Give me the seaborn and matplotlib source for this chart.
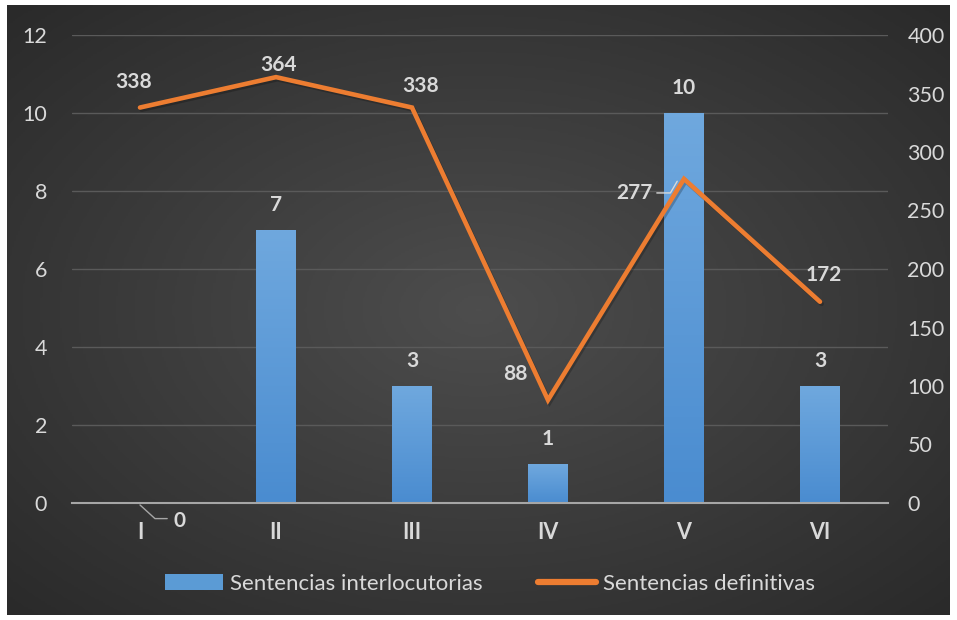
# Sentencias por periodo - barras + linea, doble eje

import numpy as np
import matplotlib
matplotlib.use('Agg')
import matplotlib.pyplot as plt
import matplotlib.patheffects as pe
import seaborn as sns

# ------------------------------------------------------
# DATA
# ------------------------------------------------------

categorias = ['I', 'II', 'III', 'IV', 'V', 'VI']
interlocutorias = [0, 7, 3, 1, 10, 3]
definitivas = [338, 364, 338, 88, 277, 172]

sns.set_style('white')
plt.rcParams['font.family'] = ['Lato', 'DejaVu Sans']

txt = '#d9d9d9'
azul = '#5b9bd5'
naranja = '#ed7d31'

fig = plt.figure(figsize=(9.57, 6.2), dpi=100)
fig.patch.set_facecolor('white')

# Background with radial gradient
bg = fig.add_axes([7/957, 5/620, 943/957, 610/620], zorder=-5)
yy, xx = np.mgrid[-1:1:300j, -1:1:450j]
r = np.sqrt(xx**2 + yy**2) / np.sqrt(2)
bg.imshow(r, cmap=matplotlib.colors.LinearSegmentedColormap.from_list('g', ['#4d4d4d', '#2a2a2a']),
          aspect='auto', extent=[0, 1, 0, 1])
bg.axis('off')

# Main axes
ax = fig.add_axes([72/957, 1 - 503/620, 816/957, 468/620])
ax.patch.set_alpha(0)
df_x = np.arange(len(categorias))
sns.barplot(x=categorias, y=interlocutorias, color=azul, width=0.29, ax=ax,
            saturation=1, zorder=3, edgecolor='none', linewidth=0)

# gradient fill on bars
grad = np.linspace(0, 1, 100).reshape(-1, 1)
cm_bar = matplotlib.colors.LinearSegmentedColormap.from_list('b', ['#4a8cd0', '#6fa8de'])
for p in ax.patches:
    h = p.get_height()
    if h <= 0:
        continue
    x0 = p.get_x()
    w = p.get_width()
    im = ax.imshow(grad, cmap=cm_bar, origin='lower', aspect='auto',
                   extent=[x0, x0 + w, 0, h], zorder=3)
    im.set_clip_path(p)

ax.set_xlim(-0.5, 5.5)
ax.set_ylim(0, 12)
ax.set_yticks(range(0, 13, 2))
ax.grid(axis='y', color='#5a5a5a', linewidth=1)
ax.set_axisbelow(True)
for s in ['top', 'right', 'left']:
    ax.spines[s].set_visible(False)
ax.spines['bottom'].set_color('#a6a6a6')
ax.spines['bottom'].set_linewidth(1.5)
ax.spines['bottom'].set_zorder(4)
ax.tick_params(axis='y', colors=txt, labelsize=15.5, length=0, pad=18)
ax.tick_params(axis='x', colors=txt, labelsize=15.5, length=0, pad=14)
for t in ax.get_xticklabels():
    t.set_fontweight('bold')
ax.set_xlabel('')
ax.set_ylabel('')

# Bar labels
for i, v in enumerate(interlocutorias):
    if v == 0:
        ax.plot([i, i + 0.11, i + 0.2], [-0.05, -0.4, -0.4], color='#a6a6a6',
                linewidth=1, clip_on=False, zorder=5)
        ax.text(i + 0.29, -0.45, str(v), color=txt, fontsize=15, fontweight='bold',
                ha='center', va='center', clip_on=False)
    else:
        ax.text(i, v + 0.64, str(v), color=txt, fontsize=15, fontweight='bold',
                ha='center', va='center')

# Secondary axis - line
ax2 = ax.twinx()
ax2.plot(df_x, definitivas, color=naranja, linewidth=3.3, solid_capstyle='round',
         solid_joinstyle='miter', zorder=5,
         path_effects=[pe.SimpleLineShadow(offset=(1.2, -1.5), alpha=0.22), pe.Normal()])
ax2.set_ylim(0, 400)
ax2.set_yticks(range(0, 401, 50))
for s in ['top', 'right', 'left', 'bottom']:
    ax2.spines[s].set_visible(False)
ax2.tick_params(axis='y', colors=txt, labelsize=15.5, length=0, pad=14)
ax2.set_xlim(-0.5, 5.5)

offs = [(-0.05, 22), (0.02, 10), (0.06, 18), (-0.24, 22), (None, None), (0.03, 23)]
for i, v in enumerate(definitivas):
    dx, dy = offs[i]
    if dx is None:
        ax2.plot([i - 0.2, i - 0.1, i - 0.05], [v - 12, v - 12, v - 2], color='#d9d9d9',
                 linewidth=1, zorder=4)
        ax2.text(i - 0.23, v - 12, str(v), color=txt, fontsize=15, fontweight='bold',
                 ha='right', va='center')
    else:
        ax2.text(i + dx, v + dy, str(v), color=txt, fontsize=15, fontweight='bold',
                 ha='center', va='center')

# Legend
handles = [matplotlib.patches.Patch(facecolor=azul, edgecolor='none', label='Sentencias interlocutorias'),
           matplotlib.lines.Line2D([], [], color=naranja, linewidth=4.5,
                                   solid_capstyle='round', label='Sentencias definitivas')]
leg = fig.legend(handles=handles, loc='center', bbox_to_anchor=(490/957, 1 - 584/620),
                 ncol=2, frameon=False, fontsize=16, labelcolor=txt,
                 handlelength=2.6, handletextpad=0.3, columnspacing=2.5)

fig.savefig('out.png', dpi=100)
